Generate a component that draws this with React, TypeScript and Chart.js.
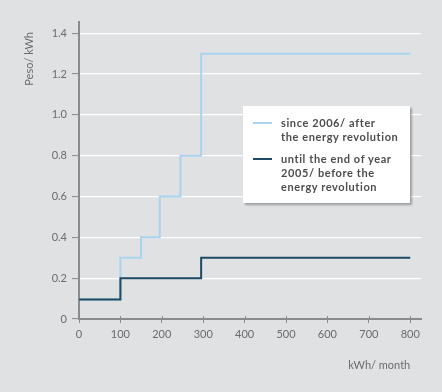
import React, { useEffect, useRef } from "react";
import { Chart, registerables } from "chart.js";

Chart.register(...registerables);

const seriesLabels = ["since 2006/ after the energy revolution", "until the end of year 2005/ before the energy revolution"];
const legendLines = [["since 2006/ after", "the energy revolution"], ["until the end of year", "2005/ before the", "energy revolution"]];
const afterX = [0, 100, 150, 195, 245, 295, 800];
const afterY = [0.095, 0.3, 0.4, 0.6, 0.8, 1.3, 1.3];
const beforeX = [0, 100, 295, 800];
const beforeY = [0.095, 0.2, 0.3, 0.3];
const xTicks = [0, 100, 200, 300, 400, 500, 600, 700, 800];
const yTicks = [0, 0.2, 0.4, 0.6, 0.8, 1.0, 1.2, 1.4];
const xTitle = "kWh/ month";
const yTitle = "Peso/ kWh";

const LIGHT = "#a9d3ee";
const DARK = "#1d4a64";
const AXIS = "#8a8b8d";
const TEXT = "#6b6b6b";
const FONT = "Lato, 'Open Sans', sans-serif";

export default function App() {
  const ref = useRef<HTMLCanvasElement | null>(null);
  useEffect(() => {
    document.body.style.margin = "0";
    const extras = {
      id: "extras",
      afterDraw(chart: any) {
        const ctx = chart.ctx;
        const xs = chart.scales.x;
        const area = chart.chartArea;
        ctx.save();
        ctx.strokeStyle = AXIS;
        ctx.lineWidth = 1;
        xTicks.forEach((v) => {
          const px = Math.round(xs.getPixelForValue(v)) + 0.5;
          ctx.beginPath();
          ctx.moveTo(px, area.bottom - 3);
          ctx.lineTo(px, area.bottom);
          ctx.stroke();
        });
        ctx.fillStyle = TEXT;
        ctx.font = "11px " + FONT;
        ctx.textAlign = "right";
        ctx.textBaseline = "middle";
        ctx.fillText(xTitle, xs.getPixelForValue(800), 365);
        ctx.translate(29, 32);
        ctx.rotate(-Math.PI / 2);
        ctx.fillText(yTitle, 0, 0);
        ctx.restore();
      },
    };
    const chart = new Chart(ref.current as HTMLCanvasElement, {
      type: "line",
      data: {
        datasets: [
          {
            label: seriesLabels[0],
            data: afterX.map((x, i) => ({ x, y: afterY[i] })),
            borderColor: LIGHT,
            borderWidth: 2,
            pointRadius: 0,
            stepped: true,
            fill: false,
            order: 1,
          },
          {
            label: seriesLabels[1],
            data: beforeX.map((x, i) => ({ x, y: beforeY[i] })),
            borderColor: DARK,
            borderWidth: 2,
            pointRadius: 0,
            stepped: true,
            fill: false,
            order: 0,
          },
        ],
      },
      options: {
        animation: false,
        responsive: true,
        maintainAspectRatio: false,
        layout: { padding: { left: 0, right: 21, top: 22, bottom: 0 } },
        plugins: { legend: { display: false }, tooltip: { enabled: false } },
        scales: {
          x: {
            type: "linear",
            min: 0,
            max: 826,
            afterBuildTicks: (s: any) => {
              s.ticks = xTicks.map((v) => ({ value: v }));
            },
            afterFit: (s: any) => {
              s.height = 73;
            },
            grid: { display: true, drawOnChartArea: false, tickLength: 4, tickColor: AXIS, tickWidth: 1 },
            border: { color: AXIS, width: 2 },
            ticks: { color: TEXT, font: { family: FONT, size: 11 }, padding: 5, maxRotation: 0 },
          },
          y: {
            type: "linear",
            min: 0,
            max: 1.455,
            afterBuildTicks: (s: any) => {
              s.ticks = yTicks.map((v) => ({ value: v }));
            },
            afterFit: (s: any) => {
              s.width = 79;
            },
            grid: { color: "#ffffff", lineWidth: 1.2, tickLength: 7, tickColor: AXIS, tickWidth: 1 },
            border: { color: AXIS, width: 2 },
            ticks: {
              color: TEXT,
              font: { family: FONT, size: 11 },
              padding: 5,
              callback: (v: any) => (Number(v) === 0 ? "0" : Number(v).toFixed(1)),
            },
          },
        },
      },
      plugins: [extras],
    } as any);
    return () => chart.destroy();
  }, []);

  const colors = [LIGHT, DARK];
  const tops = [116, 152];
  return (
    <div style={{ position: "relative", width: 442, height: 392, background: "#e0e1e3", fontFamily: FONT }}>
      <canvas ref={ref} />
      <div
        style={{
          position: "absolute",
          left: 243,
          top: 106,
          width: 167,
          height: 97,
          background: "#ffffff",
          boxShadow: "2px 2px 2px rgba(0,0,0,0.3)",
        }}
      >
        {legendLines.map((lines, i) => (
          <div key={i} style={{ position: "absolute", left: 0, top: tops[i] - 106, width: 167 }}>
            <div style={{ position: "absolute", left: 10, top: 6, width: 19, height: 2, background: colors[i] }} />
            <div
              style={{
                position: "absolute",
                left: 38,
                top: 0,
                fontSize: 11,
                lineHeight: "14px",
                fontWeight: 700,
                color: "#4d4d4f",
                whiteSpace: "nowrap",
                letterSpacing: 0.6,
              }}
            >
              {lines.map((l, j) => (
                <div key={j}>{l}</div>
              ))}
            </div>
          </div>
        ))}
      </div>
    </div>
  );
}
